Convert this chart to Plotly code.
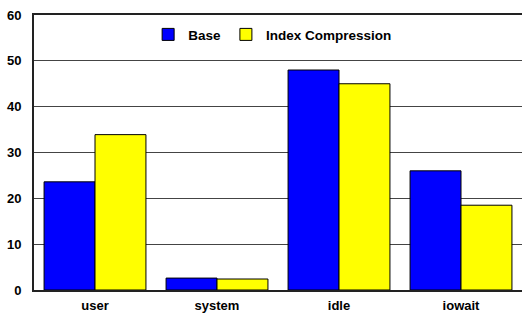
import plotly.graph_objects as go

categories = ["user", "system", "idle", "iowait"]
base = [23.6, 2.6, 48.0, 26.0]
index_compression = [33.9, 2.4, 45.0, 18.5]
y_ticks = [0, 10, 20, 30, 40, 50, 60]

fig = go.Figure()
fig.add_trace(go.Bar(x=categories, y=base, name="Base",
                     marker=dict(color="#0000ff", line=dict(color="black", width=1))))
fig.add_trace(go.Bar(x=categories, y=index_compression, name="Index Compression",
                     marker=dict(color="#ffff00", line=dict(color="black", width=1))))

fig.update_layout(
    width=525, height=314,
    margin=dict(l=34, r=3, t=15, b=24, autoexpand=False),
    paper_bgcolor="white", plot_bgcolor="white",
    barmode="group", bargap=0.165, bargroupgap=0,
    font=dict(family="Liberation Sans, Arial, sans-serif", size=13, color="black"),
    showlegend=True,
    legend=dict(orientation="h", x=0.489, y=0.985, xanchor="center", yanchor="top",
                font=dict(size=13.5, family="Liberation Sans, Arial, sans-serif", weight="bold"),
                bgcolor="rgba(0,0,0,0)"),
)
fig.update_xaxes(showline=True, linecolor="#222222", linewidth=2, ticks="", automargin=False,
                 mirror=True,
                 tickfont=dict(size=13, weight="bold"), showgrid=False, ticklabelstandoff=2)
fig.update_yaxes(range=[0, 60], tickvals=y_ticks, showline=True, linecolor="#222222", linewidth=2,
                 showgrid=True, gridcolor="#444444", gridwidth=1, zeroline=False, automargin=False,
                 tickfont=dict(size=13, weight="bold"), ticks="outside", ticklen=8, tickcolor="white")
fig.write_html("out.html", config={"displayModeBar": False},
               post_script="document.body.style.margin='0';document.body.style.overflow='hidden';")
